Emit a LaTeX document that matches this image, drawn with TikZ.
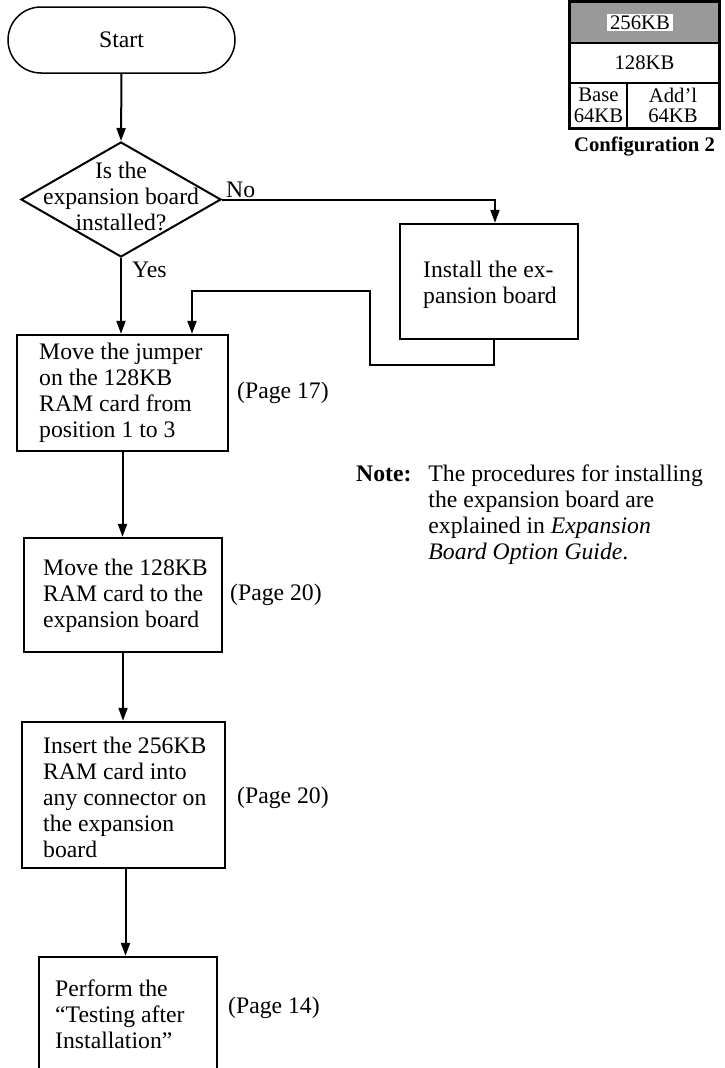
\documentclass[tikz,border=0pt]{standalone}
\usepackage{fontspec}
\setmainfont{Liberation Serif}
\usetikzlibrary{shapes.geometric,arrows.meta}
\newcommand{\mainfs}{\fontsize{23.7}{26}\selectfont}
\newcommand{\cfgfs}{\fontsize{20.7}{20.5}\selectfont}
\begin{document}
\begin{tikzpicture}[x=1pt,y=-1pt,
  every node/.style={font=\mainfs, inner sep=0pt},
  stepbox/.style={draw, rectangle, line width=2.4pt},
  txt/.style={anchor=west, align=left},
  arr/.style={line width=2pt, -{Triangle[length=13pt,width=9pt]}},
  conn/.style={line width=2pt},
  cell/.style={draw, rectangle, line width=1.3pt, font=\cfgfs, align=center}]
\useasboundingbox (0,0) rectangle (725,1068);
\clip (0,0) rectangle (725,1068);

% start
\node[draw, line width=1.5pt, rounded corners=33pt, minimum width=227pt, minimum height=66pt] (start) at (121.5,40) {Start};

% decision
\node[diamond, draw, line width=2pt, minimum width=200pt, minimum height=115pt] (dec) at (121,199.5) {};
\node[align=center] (dect) at (121,196) {Is the\\expansion board\\installed?};
\node[anchor=west] (no) at (226,190) {No};
\node[anchor=west] (yes) at (132,270) {Yes};

% install box
\node[stepbox, minimum width=178pt, minimum height=115pt] (inst) at (489,281.5) {};
\node[txt] (instt) at (423,285) {Install the ex-\\pansion board};

% jumper box
\node[stepbox, minimum width=211pt, minimum height=116pt] (jump) at (122.5,393) {};
\node[txt] (jumpt) at (39,393) {Move the jumper\\on the 128KB\\RAM card from\\position 1 to 3};
\node[anchor=west] (p17) at (237,393) {(Page 17)};

% move card box
\node[stepbox, minimum width=198pt, minimum height=114pt] (mv) at (123,595) {};
\node[txt] (mvt) at (43,596) {Move the 128KB\\RAM card to the\\expansion board};
\node[anchor=west] (p20a) at (230,595) {(Page 20)};

% insert box
\node[stepbox, minimum width=203pt, minimum height=146pt] (ins) at (123.5,795) {};
\node[txt] (inst2) at (43,797.5) {Insert the 256KB\\RAM card into\\any connector on\\the expansion\\board};
\node[anchor=west] (p20b) at (237,798) {(Page 20)};

% perform box
\node[stepbox, minimum width=178pt, minimum height=133pt] (perf) at (128,1023.5) {};
\node[txt] (perft) at (55,1014) {Perform the\\``Testing after\\Installation''};
\node[anchor=west] (p14) at (228,1008) {(Page 14)};

% note
\node[anchor=north west] (note) at (356,463) {%
\begin{tabular}{@{}l@{\hspace{17pt}}l@{}}
\textbf{Note:} & The procedures for installing\\
 & the expansion board are\\
 & explained in \textit{Expansion}\\
 & \textit{Board Option Guide}.
\end{tabular}};

% configuration
\node[cell, fill=black!40, minimum width=149pt, minimum height=41pt] (c1) at (644.5,22.5) {};
\node[fill=white, inner xsep=3pt, inner ysep=2pt, font=\cfgfs] (c1t) at (640,22.5) {256KB};
\node[cell, minimum width=149pt, minimum height=40pt] (c2) at (644.5,63) {128KB};
\node[cell, minimum width=57pt, minimum height=45pt] (c3a) at (598.5,105.5) {Base\\64KB};
\node[cell, minimum width=92pt, minimum height=45pt] (c3b) at (673,105.5) {Add'l\\64KB};
\draw[line width=2.4pt] (c1.north west) rectangle (c3b.south east);
\node[font=\cfgfs\bfseries] (cap) at (644.5,146) {Configuration 2};

% connectors
\coordinate (fb1) at (370,365);
\coordinate (fb2) at (192,291);
\draw[arr] (start.south) -- (dec.north);
\draw[arr] (dec.east) -| ([xshift=6pt]inst.north);
\draw[arr] (dec.south) -- (dec.south |- jump.north);
\draw[arr] ([xshift=5pt]inst.south) |- (fb1) |- (fb2) -- (fb2 |- jump.north);
\draw[arr] (jump.south) -- (jump.south |- mv.north);
\draw[arr] (mv.south) -- (mv.south |- ins.north);
\draw[arr] ([xshift=2pt]ins.south) -- ([xshift=2pt]ins.south |- perf.north);
\end{tikzpicture}
\end{document}
